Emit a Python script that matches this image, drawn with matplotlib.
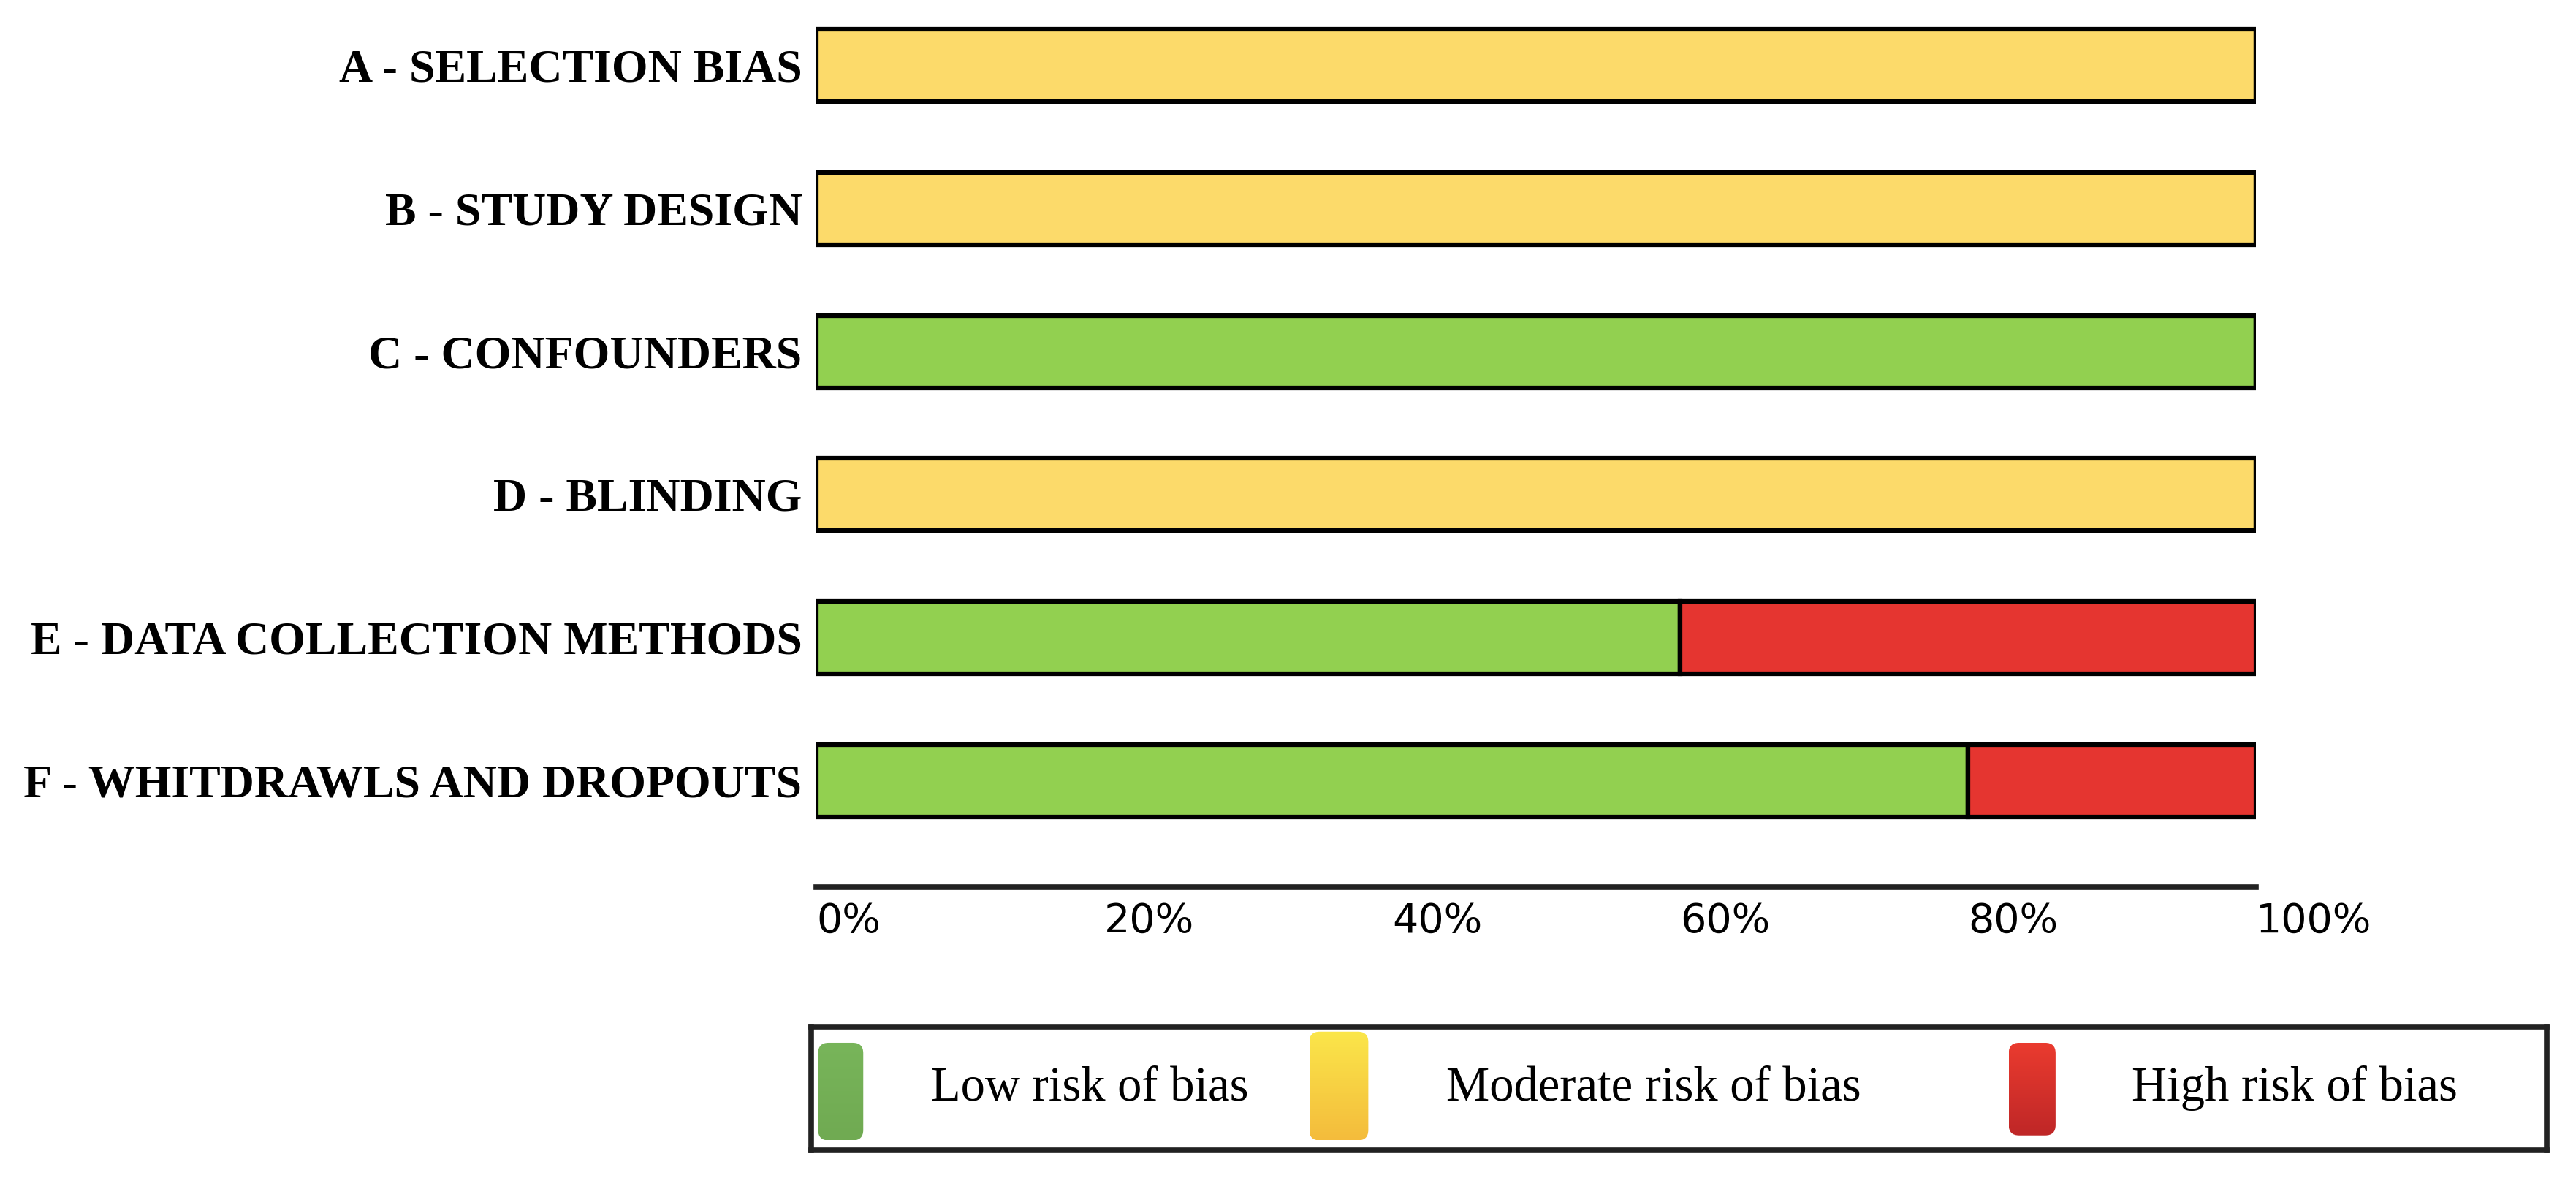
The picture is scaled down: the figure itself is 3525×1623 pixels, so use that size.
import matplotlib
matplotlib.use('Agg')
import matplotlib.pyplot as plt
import numpy as np
from matplotlib.patches import FancyBboxPatch
from matplotlib.colors import LinearSegmentedColormap


categories = ['A - SELECTION BIAS', 'B - STUDY DESIGN', 'C - CONFOUNDERS',
              'D - BLINDING', 'E - DATA COLLECTION METHODS', 'F - WHITDRAWLS AND DROPOUTS']
low_risk = [0, 0, 100, 0, 60, 80]
moderate_risk = [100, 100, 0, 100, 0, 0]
high_risk = [0, 0, 0, 0, 40, 20]

x_ticks = [0, 20, 40, 60, 80, 100]
x_tick_labels = ['0%', '20%', '40%', '60%', '80%', '100%']

legend_labels = ['Low risk of bias', 'Moderate risk of bias', 'High risk of bias']

bar_colors = ['#92D050', '#FCDA6A', '#E53530']
# gradient top/bottom colours of the legend swatches
legend_grads = [('#78B55A', '#70AA52'), ('#FBE64A', '#F4BC3C'), ('#EA3B2F', '#BF2727')]

fig = plt.figure(figsize=(35.25, 16.23), dpi=100)
ax = fig.add_axes([1117 / 3525, 1 - 1214 / 1623, 1970 / 3525, 1214 / 1623])

y = np.arange(len(categories))
left = np.zeros(len(categories))
for vals, col in zip([low_risk, moderate_risk, high_risk], bar_colors):
    ax.barh(y, vals, left=left, height=0.506, color=col, edgecolor='black', linewidth=4.5)
    left = left + np.array(vals)

ax.set_xlim(0, 100)
ax.set_ylim(5.746, -0.46)
ax.set_yticks(y)
ax.set_yticklabels(categories, fontfamily='Liberation Serif', fontweight='bold', fontsize=46)
ax.set_xticks(x_ticks)
ax.set_xticklabels(x_tick_labels, fontfamily='DejaVu Sans', fontsize=40, ha='left')
ax.tick_params(axis='both', length=0)
ax.tick_params(axis='y', pad=14)
ax.tick_params(axis='x', pad=14)
for s in ['top', 'right', 'left']:
    ax.spines[s].set_visible(False)
ax.spines['bottom'].set_linewidth(5.5)
ax.spines['bottom'].set_color('#222222')

# legend box drawn by hand
lax = fig.add_axes([1110 / 3525, 1 - 1574 / 1623, 2375 / 3525, 169 / 1623])
lax.set_xlim(0, 1)
lax.set_ylim(0, 1)
lax.set_xticks([])
lax.set_yticks([])
for s in lax.spines.values():
    s.set_linewidth(5.5)
    s.set_color('#222222')

patch_x = [(0.004, 0.030), (0.287, 0.321), (0.690, 0.717)]
patch_y = [(0.08, 0.87), (0.08, 0.96), (0.12, 0.87)]
text_x = [0.069, 0.366, 0.761]
for (x0, x1), (y0, y1), (top, bot), lab, tx in zip(patch_x, patch_y, legend_grads, legend_labels, text_x):
    p = FancyBboxPatch((x0, y0), x1 - x0, y1 - y0,
                       boxstyle='round,pad=0,rounding_size=0.006', mutation_aspect=14,
                       facecolor='none', edgecolor='none')
    lax.add_patch(p)
    cmap = LinearSegmentedColormap.from_list('g', [bot, top])
    grad = np.linspace(0, 1, 100).reshape(-1, 1)
    im = lax.imshow(grad, extent=(x0, x1, y0, y1), origin='lower', aspect='auto', cmap=cmap)
    im.set_clip_path(p)
    lax.text(tx, 0.5, lab, fontfamily='Liberation Serif', fontsize=48, va='center', ha='left')

plt.savefig('out.png', dpi=100)
